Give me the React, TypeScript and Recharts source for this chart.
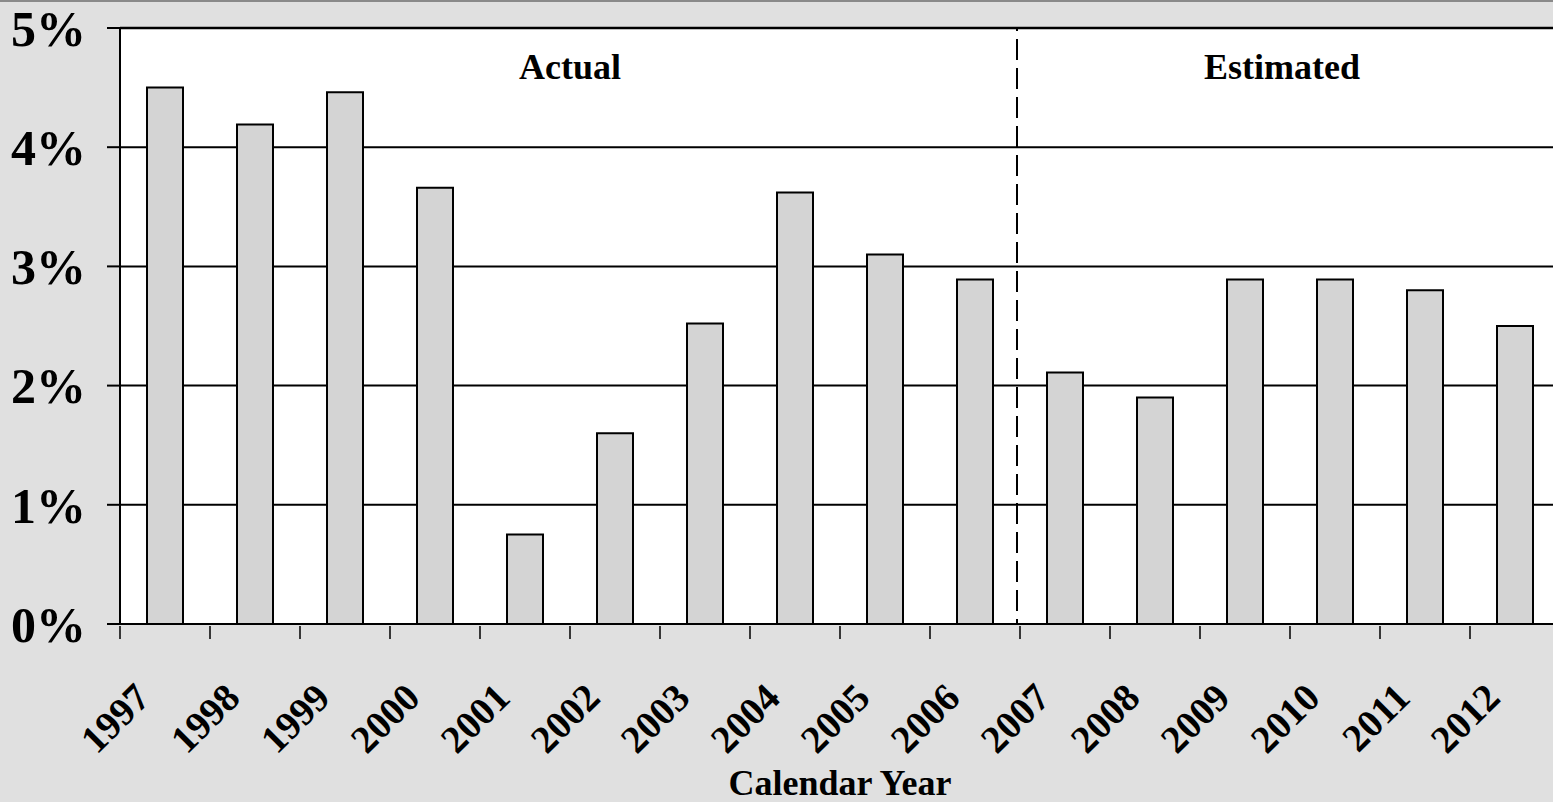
import React from "react";
import {
  BarChart, Bar, XAxis, YAxis, CartesianGrid,
  ReferenceLine, ReferenceArea, Label,
} from "recharts";

// growth rate by calendar year, in percent
const years = [
  "1997", "1998", "1999", "2000", "2001", "2002", "2003", "2004",
  "2005", "2006", "2007", "2008", "2009", "2010", "2011", "2012",
];
const rates = [
  4.5, 4.19, 4.46, 3.66, 0.75, 1.6, 2.52, 3.62,
  3.1, 2.89, 2.11, 1.9, 2.89, 2.89, 2.8, 2.5,
];
const yTicks = [0, 1, 2, 3, 4, 5];

const FONT = "'Liberation Serif', 'Times New Roman', serif";
const PLOT_W = 1440;
const HALF_BAND = PLOT_W / years.length / 2;

const chartData = years.map((year, i) => ({ year, rate: rates[i] }));

// rotated year label ending near the category centre, plus the tick marks
// that sit on the category boundaries (Excel style)
const YearTick = (props: any) => {
  const { x, y, payload, index } = props;
  const last = index === years.length - 1;
  return (
    <g>
      <line x1={x - HALF_BAND} x2={x - HALF_BAND} y1={y} y2={y + 13} stroke="#000" strokeWidth={1.5} />
      {last && (
        <line x1={x + HALF_BAND} x2={x + HALF_BAND} y1={y} y2={y + 13} stroke="#000" strokeWidth={1.5} />
      )}
      <g transform={`translate(${x - 13},${y + 74})`}>
        <text
          transform="rotate(-45)"
          textAnchor="end"
          fontFamily={FONT}
          fontWeight="bold"
          fontSize={39}
          fill="#000"
        >
          {payload.value}
        </text>
      </g>
    </g>
  );
};

// dashed divider, drawn a hair left of the 2006|2007 boundary as in the original
const Divider = (props: any) => (
  <line
    x1={props.x1 - 3}
    x2={props.x2 - 3}
    y1={props.y1}
    y2={props.y2}
    stroke="#000"
    strokeWidth={2}
    strokeDasharray="21 8"
    strokeDashoffset={16}
  />
);

const labelStyle = { fontFamily: FONT, fontWeight: "bold", fontSize: 36, fill: "#000" };

export default function App() {
  return (
    <div
      style={{
        position: "absolute", left: 0, top: 0, width: 1553, height: 802,
        overflow: "hidden", background: "#e0e0e0",
      }}
    >
      <div style={{ position: "absolute", left: 0, top: 0, width: 1553, height: 2, background: "#8a8a8a" }} />
      <BarChart
        width={1560}
        height={802}
        data={chartData}
        margin={{ top: 28, right: 0, left: 0, bottom: 0 }}
        barCategoryGap="30%"
      >
        <CartesianGrid vertical={false} stroke="#000" strokeWidth={2} fill="#fff" fillOpacity={1} />
        <XAxis
          dataKey="year"
          height={178}
          interval={0}
          tickSize={0}
          tickLine={false}
          axisLine={{ stroke: "#000", strokeWidth: 2 }}
          tick={<YearTick />}
        >
          <Label value="Calendar Year" position="insideBottom" offset={7} style={labelStyle} />
        </XAxis>
        <YAxis
          width={120}
          domain={[0, 5]}
          ticks={yTicks}
          interval={0}
          tickFormatter={(v) => `${v}%`}
          tickSize={13}
          tickMargin={21}
          tickLine={{ stroke: "#000", strokeWidth: 2 }}
          axisLine={{ stroke: "#000", strokeWidth: 2 }}
          tick={{ fontFamily: FONT, fontWeight: "bold", fontSize: 50, fill: "#000" }}
        />
        <ReferenceArea x1="1997" x2="2006" y1={0} y2={5} fillOpacity={0} strokeOpacity={0}>
          <Label value="Actual" position="insideTop" offset={25} style={labelStyle} />
        </ReferenceArea>
        <ReferenceArea x1="2007" x2="2012" y1={0} y2={5} fillOpacity={0} strokeOpacity={0}>
          <Label value="Estimated" position="insideTop" offset={25} dx={-8} style={labelStyle} />
        </ReferenceArea>
        <Bar
          dataKey="rate"
          fill="#d4d4d4"
          stroke="#000"
          strokeWidth={2}
          isAnimationActive={false}
        />
        <ReferenceLine x="2007" position="start" shape={<Divider />} />
        <ReferenceLine y={5} stroke="#000" strokeWidth={2.5} />
      </BarChart>
    </div>
  );
}
